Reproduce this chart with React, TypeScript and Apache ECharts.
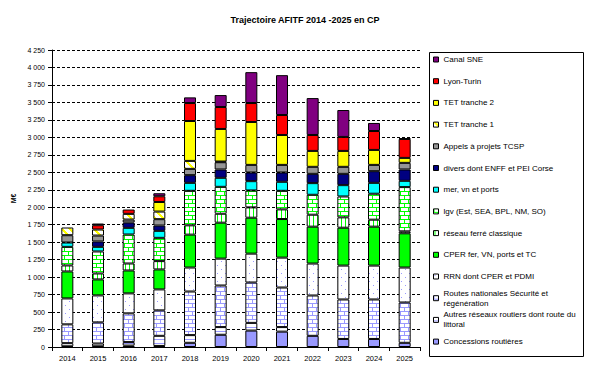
import React, { useEffect, useRef } from 'react';
import * as echarts from 'echarts';

const years = ['2014', '2015', '2016', '2017', '2018', '2019', '2020', '2021', '2022', '2023', '2024', '2025'];

const concessions = [10, 10, 20, 15, 60, 175, 235, 220, 160, 115, 115, 60];
const autresReseaux = [45, 40, 50, 145, 110, 110, 110, 65, 0, 0, 0, 0];
const routesNationales = [269, 302, 411, 364, 624, 595, 578, 566, 577, 565, 565, 577];
const rrn = [371, 386, 286, 300, 343, 385, 413, 428, 457, 485, 485, 500];
const cper = [386, 229, 328, 286, 471, 514, 514, 552, 528, 542, 557, 490];
const reseauFerre = [86, 85, 100, 119, 133, 128, 148, 138, 171, 148, 100, 28];
const lgv = [266, 315, 415, 333, 494, 385, 242, 266, 285, 299, 371, 633];
const mer = [62, 66, 95, 100, 114, 129, 133, 129, 167, 162, 156, 90];
const divers = [0, 77, 76, 76, 110, 119, 124, 133, 133, 162, 167, 162];
const appels = [105, 85, 43, 91, 90, 104, 109, 109, 100, 100, 90, 95];
const tet1 = [110, 86, 81, 109, 114, 10, 0, 0, 0, 0, 0, 0];
const tet2 = [0, 0, 0, 137, 571, 466, 614, 428, 228, 228, 214, 71];
const lyonTurin = [0, 62, 62, 82, 257, 314, 271, 286, 228, 200, 271, 271];
const canalSNE = [0, 24, 0, 43, 81, 171, 442, 570, 528, 385, 115, 10];

const seriesNames = [
  'Concessions routières',
  'Autres réseaux routiers dont route du littoral',
  'Routes nationales Sécurité et régénération',
  'RRN dont CPER et PDMI',
  'CPER fer, VN, ports et TC',
  'réseau ferré classique',
  'lgv (Est, SEA, BPL, NM, SO)',
  'mer, vn et ports',
  'divers dont ENFF et PEI Corse',
  'Appels à projets TCSP',
  'TET tranche 1',
  'TET tranche 2',
  'Lyon-Turin',
  'Canal SNE',
];
const seriesValues = [concessions, autresReseaux, routesNationales, rrn, cper, reseauFerre, lgv, mer, divers, appels, tet1, tet2, lyonTurin, canalSNE];

const legendLines: Record<string, string> = {
  'Routes nationales Sécurité et régénération': 'Routes nationales Sécurité et\nrégénération',
  'Autres réseaux routiers dont route du littoral': 'Autres réseaux routiers dont route du\nlittoral',
};

const yTicks = { min: 0, max: 4250, interval: 250 };
const FONT = '"Liberation Sans", Arial, sans-serif';

function makePattern(w: number, h: number, color: string, test: (x: number, y: number) => boolean) {
  const c = document.createElement('canvas');
  c.width = w;
  c.height = h;
  const ctx = c.getContext('2d')!;
  ctx.fillStyle = '#ffffff';
  ctx.fillRect(0, 0, w, h);
  ctx.fillStyle = color;
  for (let y = 0; y < h; y++) for (let x = 0; x < w; x++) if (test(x, y)) ctx.fillRect(x, y, 1, 1);
  return { image: c.toDataURL(), repeat: 'repeat', imageWidth: w, imageHeight: h } as any;
}

function fmt(v: number) {
  const s = String(v);
  return s.length > 3 ? s.slice(0, s.length - 3) + ' ' + s.slice(s.length - 3) : s;
}

export default function App() {
  const ref = useRef<HTMLDivElement>(null);
  useEffect(() => {
    if (!ref.current) return;
    const chart = echarts.init(ref.current, undefined, { renderer: 'svg' });
    const L = '#9999ff';
    const G = '#00ff00';
    const brick = (col: string) => makePattern(8, 8, col, (x, y) => y === 3 || y === 7 || (y < 3 && x === 0) || (y > 3 && y < 7 && x === 4));
    const fills: any[] = [
      L,
      makePattern(4, 4, L, (x, y) => y === 3),
      brick(L),
      makePattern(8, 8, L, (x, y) => (x === 1 && y === 1) || (x === 5 && y === 5)),
      G,
      makePattern(4, 4, G, (x) => x === 1),
      brick(G),
      '#00ffff',
      '#000080',
      '#969696',
      makePattern(8, 8, '#ffff00', (x, y) => (x - y + 8) % 8 < 3),
      '#ffff00',
      '#ff0000',
      '#800080',
    ];

    const series = seriesNames.map((name, i) => ({
      name,
      type: 'bar',
      stack: 'total',
      barWidth: 12,
      data: seriesValues[i].map((v) => (v === 0 ? null : v)),
      itemStyle: { color: fills[i], borderColor: '#000', borderWidth: 1 },
      emphasis: { disabled: true },
    }));

    const legendOrder = [...seriesNames].reverse();
    const legends = legendOrder.map((name, i) => {
      const center = 59.5 + i * 21.7;
      const two = !!legendLines[name];
      return {
        data: [name],
        orient: 'vertical',
        left: 433,
        top: two ? center - 15 : center - 5,
        padding: 0,
        itemWidth: 5,
        itemHeight: 5,
        icon: 'rect',
        selectedMode: false,
        formatter: (n: string) => legendLines[n] || n,
        itemStyle: { borderColor: '#000', borderWidth: 1 },
        textStyle: { fontSize: 8, color: '#000', fontFamily: FONT, lineHeight: 10, padding: two ? [10, 0, 0, 0] : 0 },
      };
    });

    chart.setOption({
      animation: false,
      backgroundColor: '#fff',
      textStyle: { fontFamily: FONT },
      title: {
        text: 'Trajectoire AFITF 2014 -2025 en CP',
        left: 305,
        textAlign: 'center',
        top: 15,
        padding: 0,
        textStyle: { fontSize: 9, fontWeight: 'bold', color: '#000', fontFamily: FONT },
      },
      grid: { left: 52, right: 185, top: 50, bottom: 28, containLabel: false },
      xAxis: {
        type: 'category',
        data: years,
        boundaryGap: true,
        axisLine: { lineStyle: { color: '#000', width: 1 } },
        axisTick: { show: true, length: 4, lineStyle: { color: '#000' } },
        axisLabel: { fontSize: 7.5, color: '#000', margin: 7, fontFamily: FONT },
      },
      yAxis: {
        type: 'value',
        min: yTicks.min,
        max: yTicks.max,
        interval: yTicks.interval,
        name: 'M€',
        nameLocation: 'middle',
        nameGap: 32,
        nameRotate: 90,
        nameTextStyle: { fontSize: 7, fontWeight: 'bold', color: '#000', fontFamily: FONT },
        axisLine: { show: true, lineStyle: { color: '#000', width: 1 } },
        axisTick: { show: true, length: 4, lineStyle: { color: '#000' } },
        axisLabel: { fontSize: 7, color: '#000', margin: 7, formatter: (v: number) => fmt(v), fontFamily: FONT },
        splitLine: { show: true, lineStyle: { color: '#000', type: [3, 2], width: 1 } },
      },
      legend: legends,
      graphic: [
        {
          type: 'rect',
          shape: { x: 429.5, y: 52.5, width: 154, height: 304 },
          style: { fill: 'none', stroke: '#000', lineWidth: 1 },
          silent: true,
        },
      ],
      series,
    } as any);
    return () => chart.dispose();
  }, []);
  return <div ref={ref} style={{ position: 'absolute', left: 0, top: 0, width: 605, height: 375, background: '#fff' }} />;
}
